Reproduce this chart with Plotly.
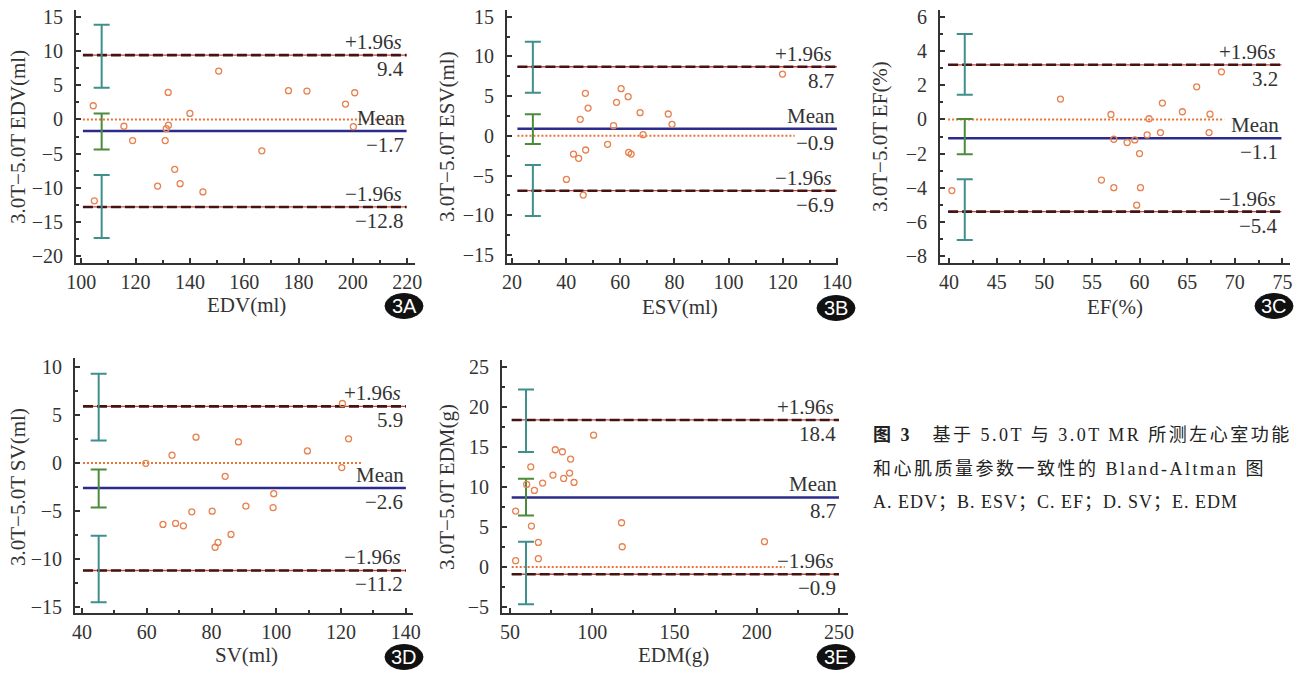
import plotly.graph_objects as go

W, H = 1308, 675

# ---------------- data ----------------
edv_mean = [104.4, 115.7, 118.9, 128.1, 130.9, 131.3, 132.1, 132.0, 134.4, 136.4,
            140.0, 144.8, 150.6, 166.5, 176.3, 183.1, 197.3, 200.7, 200.2, 104.8]
edv_diff = [2.0, -1.0, -3.1, -9.75, -3.1, -1.35, -0.85, 3.95, -7.3, -9.4,
            0.88, -10.6, 7.07, -4.6, 4.2, 4.15, 2.24, 3.9, -1.07, -11.9]

esv_mean = [40.1, 42.7, 44.6, 45.2, 46.3, 47.1, 47.2, 48.1, 55.3, 57.5,
            58.6, 60.3, 62.9, 63.1, 64.0, 67.3, 68.4, 77.7, 79.1, 119.9]
esv_diff = [-5.48, -2.29, -2.83, 2.08, -7.45, 5.35, -1.78, 3.5, -1.07, 1.28,
            4.22, 5.94, 4.93, -2.08, -2.29, 2.92, 0.15, 2.75, 1.45, 7.78]

ef_mean = [40.3, 51.7, 56.0, 57.0, 57.3, 57.3, 58.7, 59.5, 59.7, 60.0,
           60.1, 60.8, 61.0, 62.2, 62.4, 64.5, 66.0, 67.3, 67.4, 68.6]
ef_diff = [-4.17, 1.19, -3.55, 0.29, -1.16, -4.0, -1.35, -1.2, -5.02, -2.0,
           -4.0, -0.9, 0.04, -0.77, 0.96, 0.45, 1.91, -0.77, 0.31, 2.79]

sv_mean = [59.7, 65.0, 67.8, 68.9, 71.3, 73.9, 75.2, 80.2, 81.1, 82.0,
           84.2, 86.0, 88.3, 90.6, 99.0, 99.2, 109.6, 120.4, 120.2, 122.3]
sv_diff = [-0.03, -6.4, 0.81, -6.3, -6.55, -5.09, 2.69, -5.02, -8.78, -8.28,
           -1.39, -7.44, 2.2, -4.5, -4.64, -3.2, 1.26, 6.2, -0.48, 2.52]

edm_mean = [53.4, 53.4, 60.1, 62.6, 63.0, 64.8, 67.2, 67.2, 69.8, 76.1,
            77.5, 81.8, 82.6, 86.2, 86.8, 88.9, 100.8, 117.8, 118.2, 204.7]
edm_diff = [7.0, 0.79, 10.33, 12.54, 5.13, 9.58, 3.08, 1.04, 10.5, 11.5,
            14.67, 14.42, 11.08, 11.75, 13.5, 10.58, 16.5, 5.54, 2.54, 3.17]

# limits: [+1.96s, mean, -1.96s]
edv_limits = [9.4, -1.7, -12.8]
esv_limits = [8.7, 0.9, -6.9]
ef_limits = [3.2, -1.1, -5.4]
sv_limits = [5.9, -2.6, -11.2]
edm_limits = [18.4, 8.7, -0.9]

edv_labels = ["9.4", "−1.7", "−12.8"]
esv_labels = ["8.7", "−0.9", "−6.9"]
ef_labels = ["3.2", "−1.1", "−5.4"]
sv_labels = ["5.9", "−2.6", "−11.2"]
edm_labels = ["18.4", "8.7", "−0.9"]

# confidence intervals of the limits: [upper, mean, lower] -> (high, low)
edv_ci_high = [13.85, 0.88, -8.13]
edv_ci_low = [4.63, -4.39, -17.36]
esv_ci_high = [11.85, 2.71, -3.67]
esv_ci_low = [5.43, -1.03, -10.1]
ef_ci_high = [5.0, 0.02, -3.5]
ef_ci_low = [1.44, -2.04, -7.06]
sv_ci_high = [9.3, -0.69, -7.59]
sv_ci_low = [2.34, -4.63, -14.52]
edm_ci_high = [22.2, 11.04, 3.17]
edm_ci_low = [14.4, 6.46, -4.67]

x_titles = ["EDV(ml)", "ESV(ml)", "EF(%)", "SV(ml)", "EDM(g)"]
y_titles = ["3.0T−5.0T EDV(ml)", "3.0T−5.0T ESV(ml)", "3.0T−5.0T EF(%)",
            "3.0T−5.0T SV(ml)", "3.0T−5.0T EDM(g)"]
badges = ["3A", "3B", "3C", "3D", "3E"]

caption_lines = ["<b>图 3</b>　基于 5.0T 与 3.0T MR 所测左心室功能",
                 "和心肌质量参数一致性的 Bland-Altman 图",
                 "A. EDV；B. ESV；C. EF；D. SV；E. EDM"]

# ---------------- layout config ----------------
panels = [
    dict(x=edv_mean, y=edv_diff, lim=edv_limits, lab=edv_labels, hi=edv_ci_high, lo=edv_ci_low,
         dom_px=(76, 415), dom_py=(10, 263), xr=[98.05, 222.9], yr=[-21.0, 16.0],
         xd=20, xm=10, yd=5, ym=2.5, ci_x=107.5, l0=100.6, l1=219.8, z1=219.0,
         xt=(246, 305), yt=(18, 137), badge=(404, 306)),
    dict(x=esv_mean, y=esv_diff, lim=esv_limits, lab=esv_labels, hi=esv_ci_high, lo=esv_ci_low,
         dom_px=(507, 838), dom_py=(10, 263), xr=[18.15, 140.4], yr=[-16.0, 15.84],
         xd=20, xm=10, yd=5, ym=2.5, ci_x=27.7, l0=22.0, l1=140.0, z1=124.4,
         xt=(680, 307), yt=(447, 137), badge=(836, 308)),
    dict(x=ef_mean, y=ef_diff, lim=ef_limits, lab=ef_labels, hi=ef_ci_high, lo=ef_ci_low,
         dom_px=(940, 1290), dom_py=(10, 263), xr=[39.05, 75.8], yr=[-8.41, 6.41],
         xd=5, xm=2.5, yd=2, ym=1, ci_x=41.65, l0=39.9, l1=74.9, z1=68.9,
         xt=(1115, 307), yt=(880, 137), badge=(1274, 306)),
    dict(x=sv_mean, y=sv_diff, lim=sv_limits, lab=sv_labels, hi=sv_ci_high, lo=sv_ci_low,
         dom_px=(75, 413), dom_py=(358, 613), xr=[37.84, 142.2], yr=[-15.63, 10.94],
         xd=20, xm=10, yd=5, ym=2.5, ci_x=45.15, l0=40.3, l1=140.0, z1=126.3,
         xt=(247, 655), yt=(18, 487), badge=(404, 657)),
    dict(x=edm_mean, y=edm_diff, lim=edm_limits, lab=edm_labels, hi=edm_ci_high, lo=edm_ci_low,
         dom_px=(502, 848), dom_py=(360, 613), xr=[45.1, 255.5], yr=[-5.75, 25.9],
         xd=50, xm=25, yd=5, ym=2.5, ci_x=59.7, l0=51.0, l1=250.0, z1=217.0,
         xt=(673, 655), yt=(447, 487), badge=(836, 657)),
]

SERIF = "Liberation Serif, Times New Roman, serif"
TXT = "#333333"
ORANGE = "#e8804f"
TEAL = "#3f8f8c"
GREEN = "#4b8b3b"
NAVY = "#2b2b8c"


def px(x):
    return x / W


def py(y):
    return 1 - y / H


fig = go.Figure()
annotations = []
shapes = []
layout_axes = {}

for i, p in enumerate(panels):
    n = "" if i == 0 else str(i + 1)
    xa, ya = "x" + n, "y" + n
    layout_axes["xaxis" + n] = dict(
        domain=[px(p["dom_px"][0]), px(p["dom_px"][1])], range=p["xr"], anchor=ya,
        dtick=p["xd"], tick0=0, ticks="inside", ticklen=5, tickwidth=1.5, tickcolor=TXT,
        minor=dict(dtick=p["xm"], ticks="inside", ticklen=3, tickcolor=TXT),
        showline=True, linecolor=TXT, linewidth=2, showgrid=False, zeroline=False,
        automargin=False, ticklabelstandoff=0,
        tickfont=dict(family=SERIF, size=20, color=TXT), fixedrange=True)
    layout_axes["yaxis" + n] = dict(
        domain=[py(p["dom_py"][1]), py(p["dom_py"][0])], range=p["yr"], anchor=xa,
        dtick=p["yd"], tick0=0, ticks="inside", ticklen=5, tickwidth=1.5, tickcolor=TXT,
        minor=dict(dtick=p["ym"], ticks="inside", ticklen=3, tickcolor=TXT),
        showline=True, linecolor=TXT, linewidth=2, showgrid=False, zeroline=False,
        automargin=False, ticklabelstandoff=7,
        tickfont=dict(family=SERIF, size=20, color=TXT), fixedrange=True)

    up, mean, low = p["lim"]
    # zero line
    fig.add_trace(go.Scatter(x=[p["l0"], p["z1"]], y=[0, 0], mode="lines", xaxis=xa, yaxis=ya,
                             line=dict(color="#e8733a", width=2, dash="2px,2px"), showlegend=False))
    # limits (red underlay + dark dashes)
    for v in (up, low):
        fig.add_trace(go.Scatter(x=[p["l0"], p["l1"]], y=[v, v], mode="lines", xaxis=xa, yaxis=ya,
                                 line=dict(color="#c04a40", width=1.3), showlegend=False))
        fig.add_trace(go.Scatter(x=[p["l0"], p["l1"]], y=[v, v], mode="lines", xaxis=xa, yaxis=ya,
                                 line=dict(color="#441414", width=2.6, dash="10px,4px"),
                                 showlegend=False))
    # mean line
    fig.add_trace(go.Scatter(x=[p["l0"], p["l1"]], y=[mean, mean], mode="lines", xaxis=xa, yaxis=ya,
                             line=dict(color=NAVY, width=2.5), showlegend=False))
    # CI bars
    for k in range(3):
        hi, lo = p["hi"][k], p["lo"][k]
        c = (hi + lo) / 2
        fig.add_trace(go.Scatter(
            x=[p["ci_x"]], y=[c], mode="markers", xaxis=xa, yaxis=ya,
            marker=dict(size=1, opacity=0),
            error_y=dict(type="data", symmetric=True, array=[(hi - lo) / 2],
                         color=GREEN if k == 1 else TEAL, thickness=2, width=8),
            showlegend=False))
    # points
    fig.add_trace(go.Scatter(x=p["x"], y=p["y"], mode="markers", xaxis=xa, yaxis=ya,
                             marker=dict(symbol="circle-open", size=6, color=ORANGE,
                                         line=dict(width=1.3, color=ORANGE)),
                             showlegend=False))

    # line labels
    tops = ["+1.96<i>s</i>", "Mean", "−1.96<i>s</i>"]
    for k, v in enumerate(p["lim"]):
        annotations.append(dict(x=p["l1"], y=v, xref=xa, yref=ya, text=tops[k],
                                xanchor="right", yanchor="bottom", xshift=-3 if k != 1 else 0,
                                yshift=-1, showarrow=False,
                                font=dict(family=SERIF, size=21, color=TXT)))
        annotations.append(dict(x=p["l1"], y=v, xref=xa, yref=ya, text=p["lab"][k],
                                xanchor="right", yanchor="top", xshift=-1, yshift=0,
                                showarrow=False,
                                font=dict(family=SERIF, size=21, color=TXT)))

    # axis titles
    annotations.append(dict(x=px(p["xt"][0]), y=py(p["xt"][1]), xref="paper", yref="paper",
                            text=x_titles[i], showarrow=False, xanchor="center", yanchor="middle",
                            font=dict(family=SERIF, size=21, color=TXT)))
    annotations.append(dict(x=px(p["yt"][0]), y=py(p["yt"][1]), xref="paper", yref="paper",
                            text=y_titles[i], showarrow=False, xanchor="center", yanchor="middle",
                            textangle=-90, font=dict(family=SERIF, size=21, color=TXT)))
    # badge
    bx, by = p["badge"]
    shapes.append(dict(type="circle", xref="paper", yref="paper",
                       x0=px(bx - 19), x1=px(bx + 19), y0=py(by + 12.5), y1=py(by - 12.5),
                       fillcolor="#111111", line=dict(color="#111111", width=1)))
    annotations.append(dict(x=px(bx), y=py(by), xref="paper", yref="paper", text=badges[i],
                            showarrow=False, xanchor="center", yanchor="middle",
                            font=dict(family="Liberation Sans, Arial, sans-serif", size=20, color="white")))

# caption
cap_y = [435, 469, 502]
cap_spacing = [2.5, 2.5, 1.0]
for t, yy, sp in zip(caption_lines, cap_y, cap_spacing):
    annotations.append(dict(x=px(871), y=py(yy), xref="paper", yref="paper",
                            text='<span style="letter-spacing:%.1fpx">' % sp + t + '</span>',
                            showarrow=False, xanchor="left", yanchor="middle",
                            font=dict(family="Liberation Serif, Noto Sans CJK SC", size=18, color="#222222")))

fig.update_layout(width=W, height=H, margin=dict(l=0, r=0, t=0, b=0, autoexpand=False),
                  paper_bgcolor="white", plot_bgcolor="white",
                  annotations=annotations, shapes=shapes, **layout_axes)

fig.write_html("out.html", config=dict(displayModeBar=False),
               post_script="document.body.style.margin='0';document.body.style.overflow='hidden';")
